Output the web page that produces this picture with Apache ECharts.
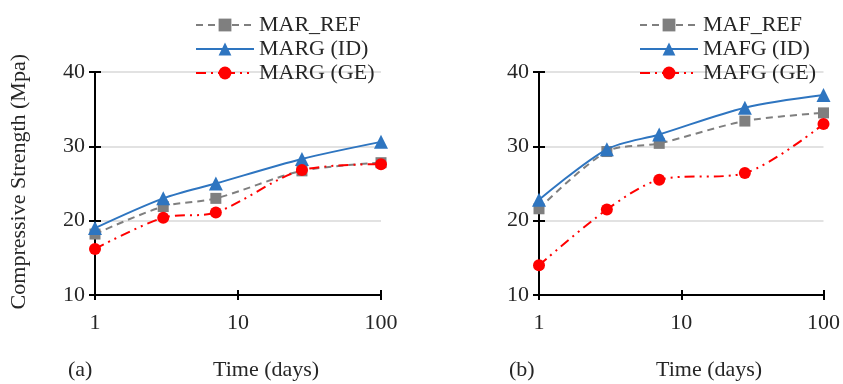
<!DOCTYPE html>
<html>
<head>
<meta charset="utf-8">
<script src="https://cdn.jsdelivr.net/npm/echarts@6/dist/echarts.min.js"></script>
<style>
  html, body { margin: 0; padding: 0; background: #fff; }
  #chart { width: 843px; height: 384px; }
</style>
</head>
<body>
<div id="chart"></div>
<script>
// curing ages (days)
const days = [1, 3, 7, 28, 100]

// panel (a)
const marRef = [18.2, 21.9, 23.0, 26.7, 27.8]
const margId = [19.0, 23.0, 25.0, 28.3, 30.6]
const margGe = [16.2, 20.4, 21.1, 26.8, 27.6]

// panel (b)
const mafRef = [21.6, 29.3, 30.4, 33.4, 34.5]
const mafgId = [22.8, 29.6, 31.6, 35.2, 36.9]
const mafgGe = [14.0, 21.5, 25.5, 26.4, 33.0]

const namesA = ['MAR_REF', 'MARG (ID)', 'MARG (GE)']
const namesB = ['MAF_REF', 'MAFG (ID)', 'MAFG (GE)']
const yTicks = [10, 40, 10] // min, max, interval

const FONT = '"Liberation Serif", "DejaVu Serif", serif'
const TXT = '#262626'

const zip = (ys) => days.map((d, i) => [d, ys[i]])

// 三種線型: 灰色虛線方塊 / 藍色實線三角 / 紅色點劃線圓點
const styles = [
  { color: '#7f7f7f', type: [7, 5], symbol: 'rect', size: 11 },
  { color: '#2e75c0', type: 'solid', symbol: 'triangle', size: 14 },
  { color: '#ff0000', type: [10, 5, 2, 5, 2, 5], symbol: 'circle', size: 12 }
]

function makeSeries(names, datas, axisIdx) {
  return names.map((n, i) => ({
    name: n,
    type: 'line',
    xAxisIndex: axisIdx,
    yAxisIndex: axisIdx,
    data: zip(datas[i]),
    smooth: 0.3,
    symbol: styles[i].symbol,
    symbolSize: styles[i].size,
    lineStyle: { color: styles[i].color, width: 2, type: styles[i].type },
    itemStyle: { color: styles[i].color },
    z: 2 + i
  }))
}

function xAxes(gridIdx) {
  const base = {
    type: 'log', logBase: 10, min: 1, max: 100, gridIndex: gridIdx,
    position: 'bottom',
    splitLine: { show: false }
  }
  return [
    Object.assign({}, base, {
      axisLine: { lineStyle: { color: '#000', width: 2 } },
      axisTick: { length: 5, lineStyle: { color: '#000', width: 2 } },
      axisLabel: { fontFamily: FONT, fontSize: 22, color: TXT, margin: 17 }
    }),
    // second copy only for the inner half of the crossing ticks
    Object.assign({}, base, {
      axisLine: { show: false },
      axisTick: { inside: true, length: 5, lineStyle: { color: '#000', width: 2 } },
      axisLabel: { show: false }
    })
  ]
}

function yAxes(gridIdx) {
  const base = {
    type: 'value', min: yTicks[0], max: yTicks[1], interval: yTicks[2], gridIndex: gridIdx,
    position: 'left'
  }
  return [
    Object.assign({}, base, {
      axisLine: { show: true, lineStyle: { color: '#000', width: 2 } },
      axisTick: { show: true, length: 6, lineStyle: { color: '#000', width: 2 } },
      axisLabel: { fontFamily: FONT, fontSize: 22, color: TXT, margin: 10 },
      splitLine: { show: true, lineStyle: { color: '#d9d9d9', width: 1.5 } }
    }),
    Object.assign({}, base, {
      axisLine: { show: false },
      axisTick: { show: true, inside: true, length: 6, lineStyle: { color: '#000', width: 2 } },
      axisLabel: { show: false },
      splitLine: { show: false }
    })
  ]
}

function legend(names, left) {
  return {
    data: names,
    orient: 'vertical',
    left: left,
    top: 9,
    itemWidth: 58,
    itemHeight: 16,
    itemGap: 2,
    textStyle: { fontFamily: FONT, fontSize: 22, color: TXT, lineHeight: 22 }
  }
}

const chart = echarts.init(document.getElementById('chart'))

const xa = xAxes(0).concat(xAxes(1))
const ya = yAxes(0).concat(yAxes(1))
// grid indices for axis copies: 0,1 -> grid0; 2,3 -> grid1
const seriesA = makeSeries(namesA, [marRef, margId, margGe], 0)
const seriesB = makeSeries(namesB, [mafRef, mafgId, mafgGe], 2)

chart.setOption({
  animation: false,
  backgroundColor: '#fff',
  grid: [
    { left: 95, top: 72, width: 286, height: 223 },
    { left: 539, top: 72, width: 287, height: 223 }
  ],
  xAxis: xa,
  yAxis: ya,
  legend: [legend(namesA, 190), legend(namesB, 634)],
  series: seriesA.concat(seriesB),
  graphic: [
    {
      type: 'text', left: 8, top: 54, rotation: Math.PI / 2,
      style: { text: 'Compressive Strength (Mpa)', font: '22px ' + FONT, fill: TXT }
    },
    { type: 'text', left: 68, top: 359, style: { text: '(a)', font: '22px ' + FONT, fill: TXT } },
    { type: 'text', left: 213, top: 359, style: { text: 'Time (days)', font: '22px ' + FONT, fill: TXT } },
    { type: 'text', left: 509, top: 359, style: { text: '(b)', font: '22px ' + FONT, fill: TXT } },
    { type: 'text', left: 656, top: 359, style: { text: 'Time (days)', font: '22px ' + FONT, fill: TXT } }
  ]
})
</script>
</body>
</html>
